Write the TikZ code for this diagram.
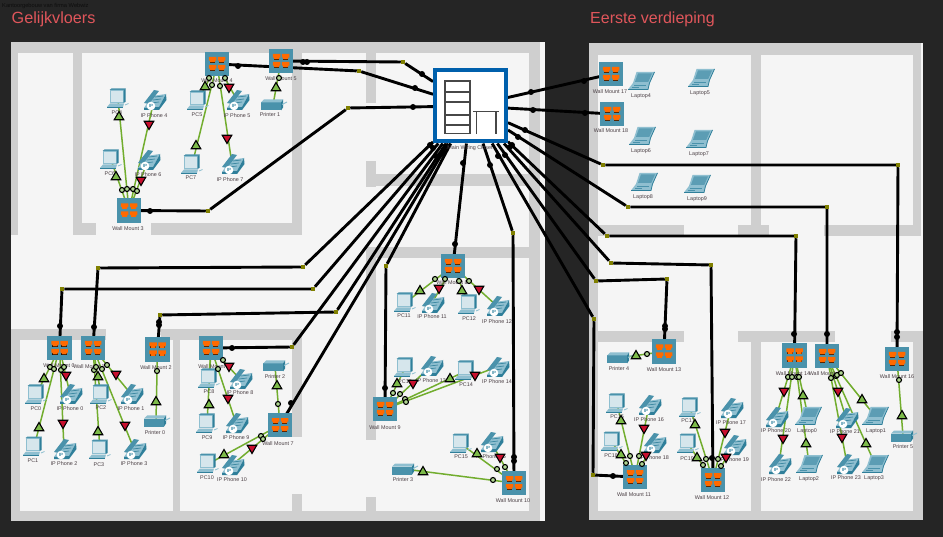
\documentclass[tikz,border=0pt]{standalone}
\usepackage{fontspec}
\setmainfont{Liberation Sans}
\usetikzlibrary{shapes.geometric}
\pgfdeclarelayer{floor}
\pgfdeclarelayer{edges}
\pgfsetlayers{floor,edges,main}
\definecolor{bgdark}{HTML}{252525}
\definecolor{floorlight}{HTML}{F5F5F5}
\definecolor{wallgray}{HTML}{CFCFCF}
\definecolor{titlered}{HTML}{E0565B}
\definecolor{teal}{HTML}{4A92AB}
\definecolor{tealdark}{HTML}{2F7F9A}
\definecolor{teallight}{HTML}{8FBFD0}
\definecolor{screenlight}{HTML}{D6E6EC}
\definecolor{portorange}{HTML}{FF6A00}
\definecolor{closetblue}{HTML}{0060AC}
\definecolor{linkgreen}{HTML}{72AD2E}
\definecolor{trigreen}{HTML}{7DBB4A}
\definecolor{trired}{HTML}{C8102E}
\definecolor{olivebend}{HTML}{808000}
\definecolor{labelcol}{HTML}{4A3F44}
\tikzset{
 anch/.style={inner sep=0pt,outer sep=0pt,minimum size=0pt},
 devlab/.style={inner sep=0pt,text=labelcol,font=\fontsize{5.4}{6}\selectfont},
 bb/.style={draw=black,line width=2.9pt},
 lnk/.style={draw=linkgreen,line width=1.5pt},
 bendbox/.style={draw=none,fill=olivebend,minimum size=4.5pt,inner sep=0pt,outer sep=0pt},
 tup/.style={regular polygon,regular polygon sides=3,minimum size=11pt,inner sep=0pt,fill=trigreen,draw=black,line width=1.1pt},
 tdown/.style={regular polygon,regular polygon sides=3,shape border rotate=180,minimum size=11pt,inner sep=0pt,fill=trired,draw=black,line width=1.1pt},
 ldot/.style={circle,minimum size=5pt,inner sep=0pt,fill=trigreen!60!white,draw=black,line width=1.1pt},
 blob/.style={circle,minimum size=6pt,inner sep=0pt,fill=black},
 pc/.pic={
  \fill[teallight] (-8.5,-9) rectangle (5.5,4);
  \fill[tealdark] (5.5,-9) -- (7.5,-10.5) -- (7.5,3) -- (5.5,4) -- cycle;
  \fill[teal] (-8.5,-9) -- (-6.5,-10.5) -- (7.5,-10.5) -- (5.5,-9) -- cycle;
  \fill[screenlight] (-7.5,-8) rectangle (4.5,3);
  \fill[teallight] (-11,8) -- (-8,4.5) -- (6,4.5) -- (5,8) -- cycle;
  \fill[tealdark] (-11,8) rectangle (5,9);
  \draw[teallight,line width=.8pt] (7,6) -- (10.5,4.5);
 },
 phone/.pic={
  \fill[teallight] (-10,8) -- (-2,-4) -- (12,-6) -- (5,7) -- cycle;
  \fill[tealdark] (-10,8) -- (5,7) -- (5,10) -- (-10,10) -- cycle;
  \fill[tealdark] (5,7) -- (12,-6) -- (12.5,0) -- (5,10) -- cycle;
  \fill[teal] (-10,3) -- (0,-10) -- (5,-9) -- (-5,4) -- cycle;
  \draw[tealdark,line width=.6pt] (1,-3) -- (9,-4) (-1,0) -- (7,-1) (-3,3) -- (5,2);
  \fill[white] (-3,6) circle (4.3pt);
  \node[inner sep=0pt,text=teal,font=\bfseries\fontsize{4.5}{5}\selectfont] (ip) at (-3,6) {IP};
 },
 printer/.pic={
  \fill[teal] (-12,-2.5) rectangle (8,5.5);
  \fill[teallight] (-12,-2.5) -- (-9,-5.5) -- (10,-5.5) -- (8,-2.5) -- cycle;
  \fill[tealdark] (8,-2.5) -- (10,-5.5) -- (10,2.5) -- (8,5.5) -- cycle;
  \draw[teallight,line width=1pt] (9,-.5) -- (14,-3);
 },
 laptop/.pic={
  \fill[teallight] (-4.5,-9) -- (13.5,-9) -- (8.5,2) -- (-8,2) -- cycle;
  \fill[teal!90!white] (-3,-7.5) -- (11,-7.5) -- (7.3,.8) -- (-6,.8) -- cycle;
  \fill[teallight] (-8,2) -- (8.5,2) -- (7,8.5) -- (-13,8.5) -- cycle;
  \draw[tealdark,line width=.8pt] (13.5,-9) -- (8.5,2) -- (7,8.5) -- (-13,8.5);
  \draw[teal,line width=.6pt] (-7,4) -- (5,4) (-9,6) -- (-2,6);
 },
 mount/.pic={
  \fill[teal] (-12.2,-12.2) rectangle (12.2,12.2);
  \foreach \ax/\ay in {-8.2/-7,0.8/-7,-8.2/1,0.8/1}{
   \fill[black] (\ax+.8,\ay+4) rectangle (\ax+6.6,\ay+6);
   \fill[portorange] (\ax,\ay) -- (\ax+7.6,\ay) -- (\ax+7.6,\ay+3.6) -- (\ax+6.2,\ay+3.6) -- (\ax+6.2,\ay+5.3) -- (\ax+1.4,\ay+5.3) -- (\ax+1.4,\ay+3.6) -- (\ax,\ay+3.6) -- cycle;
  }
 }
}
\newcommand{\putdev}[7]{\node[anch] (#2) at (#3,#4) {}; \pic (#2ic) at (#2) {#1}; \node[devlab] (#2lab) at (#5,#6) {#7};}
\begin{document}
\begin{tikzpicture}[x=1pt,y=-1pt]
\useasboundingbox (0,0) rectangle (943,537);
\begin{pgfonlayer}{floor}
\fill[bgdark] (0,0) rectangle (943,537);
\fill[floorlight] (11,42) rectangle (545,521);
\fill[floorlight] (589,43) rectangle (923,520);
\foreach \a/\b/\c/\d in {
 11/42/540/53, 529/42/540/521, 11/511/540/521,
 11/42/18/235, 73/42/82/235, 11/223/18/235, 73/223/96/235, 151/223/302/235, 292/42/302/235,
 366/42/376/103, 366/161/376/187, 366/174/529/186,
 366/247/529/258, 366/247/376/440, 366/497/376/521,
 11/329/20/521, 11/329/106/340, 161/329/302/340, 173/329/180/521, 292/329/302/437, 292/494/302/521,
 589/43/921/55, 589/43/598/520, 751/43/761/236, 912.7/43/921/236,
 589/225/684/236, 738/225/769/236, 824/225/921/236,
 589/331/684/342, 738/331/835/342, 891/331/923/342,
 751/331/761/520, 913/331/923/520, 589/511/923/520}
 {\fill[wallgray] (\a,\b) rectangle (\c,\d);}
\end{pgfonlayer}
\node[anchor=base west,inner sep=0pt,text=black!95,font=\fontsize{5.7}{6}\selectfont] (doctitle) at (2,8) {Kantoorgebouw van firma Webwiz};
\node[anchor=base west,inner sep=0pt,text=titlered,font=\fontsize{16.2}{18}\selectfont] (gelijk) at (11.5,23.5) {Gelijkvloers};
\node[anchor=base west,inner sep=0pt,text=titlered,font=\fontsize{16}{18}\selectfont] (eerste) at (590,23.5) {Eerste verdieping};
% closet
\node[draw=closetblue,line width=4pt,fill=white,minimum size=71pt,inner sep=0pt,outer sep=2pt] (closet) at (470.5,106) {};
\begin{scope}[draw=black!72,line width=1.9pt]
\draw (445,81) rectangle (470,133.5);
\draw (445,92) -- (470,92) (445,102) -- (470,102) (445,115) -- (470,115) (445,125) -- (470,125);
\draw (473,111.5) -- (499,111.5) (476.5,111.5) -- (476.5,134) (496,111.5) -- (496,134);
\end{scope}
\node[devlab] (closetlab) at (470,148) {Main Wiring Closet};
% mounts
\putdev{mount}{wa}{59.5}{348}{59}{366}{Wall Mount 0}
\putdev{mount}{wb}{93}{348}{89}{367}{Wall Mount 1}
\putdev{mount}{wc}{157.5}{349.5}{156}{368}{Wall Mount 2}
\putdev{mount}{wd}{129}{210.5}{128}{229}{Wall Mount 3}
\putdev{mount}{we}{217}{64}{217}{81}{Wall Mount 4}
\putdev{mount}{wf}{281}{61}{281}{79}{Wall Mount 5}
\putdev{mount}{wg}{211}{348}{214}{367}{Wall Mount 6}
\putdev{mount}{wh}{280}{425}{278}{444}{Wall Mount 7}
\putdev{mount}{wi}{453}{266}{452}{283}{Wall Mount 8}
\putdev{mount}{wj}{385}{409}{385}{428}{Wall Mount 9}
\putdev{mount}{wk}{514}{483}{513}{501}{Wall Mount 10}
\putdev{mount}{wl}{635}{477}{634}{495}{Wall Mount 11}
\putdev{mount}{wm}{713}{480}{712}{498}{Wall Mount 12}
\putdev{mount}{wn}{664}{351.5}{664}{370}{Wall Mount 13}
\putdev{mount}{wo}{794.5}{355.5}{793}{374}{Wall Mount 14}
\putdev{mount}{wp}{827}{356}{826}{374}{Wall Mount 15}
\putdev{mount}{wq}{897}{359}{897}{377}{Wall Mount 16}
\putdev{mount}{wr}{611}{74}{610}{92}{Wall Mount 17}
\putdev{mount}{ws}{612}{114}{611}{131}{Wall Mount 18}
% PCs
\putdev{pc}{pca}{36}{395}{36}{409}{PC0}
\putdev{pc}{pcb}{34}{447}{33}{461}{PC1}
\putdev{pc}{pcc}{101}{395}{101}{408}{PC2}
\putdev{pc}{pcd}{100}{450}{99}{465}{PC3}
\putdev{pc}{pce}{118}{99}{117}{113}{PC4}
\putdev{pc}{pcf}{198}{101}{197}{115}{PC5}
\putdev{pc}{pcg}{111}{160}{110}{174}{PC6}
\putdev{pc}{pch}{192}{165}{191}{178}{PC7}
\putdev{pc}{pci}{209}{379}{209}{392}{PC8}
\putdev{pc}{pcj}{207}{424}{207}{438}{PC9}
\putdev{pc}{pck}{208}{464}{207}{478}{PC10}
\putdev{pc}{pcl}{405}{303}{404}{316}{PC11}
\putdev{pc}{pcm}{469}{305}{469}{319}{PC12}
\putdev{pc}{pcn}{405}{368}{405}{382}{PC13}
\putdev{pc}{pco}{466}{371}{466}{385}{PC14}
\putdev{pc}{pcp}{461}{444}{461}{457}{PC15}
\putdev{pc}{pcq}{617}{404}{617}{417}{PC16}
\putdev{pc}{pcr}{690}{408}{688}{421}{PC17}
\putdev{pc}{pcs}{612}{442}{611}{456}{PC18}
\putdev{pc}{pct}{688}{444}{687}{459}{PC19}
% phones
\putdev{phone}{ipa}{70}{394}{70}{409}{IP Phone 0}
\putdev{phone}{ipb}{131}{394}{131}{409}{IP Phone 1}
\putdev{phone}{ipc}{64}{449}{64}{464}{IP Phone 2}
\putdev{phone}{ipd}{134}{449}{134}{464}{IP Phone 3}
\putdev{phone}{ipe}{154}{100}{154}{116}{IP Phone 4}
\putdev{phone}{ipf}{237}{100}{237}{116}{IP Phone 5}
\putdev{phone}{ipg}{148}{160}{148}{175}{IP Phone 6}
\putdev{phone}{iph}{232}{164}{230}{180}{IP Phone 7}
\putdev{phone}{ipi}{240}{379}{240}{393}{IP Phone 8}
\putdev{phone}{ipj}{236}{423}{236}{438}{IP Phone 9}
\putdev{phone}{ipk}{232}{465}{232}{480}{IP Phone 10}
\putdev{phone}{ipl}{432}{303}{432}{317}{IP Phone 11}
\putdev{phone}{ipm}{497}{306}{497}{322}{IP Phone 12}
\putdev{phone}{ipn}{431}{366}{431}{381}{IP Phone 13}
\putdev{phone}{ipo}{497}{367}{497}{382}{IP Phone 14}
\putdev{phone}{ipp}{491}{442}{491}{457}{IP Phone 15}
\putdev{phone}{ipq}{649}{405}{649}{420}{IP Phone 16}
\putdev{phone}{ipr}{731}{408}{731}{423}{IP Phone 17}
\putdev{phone}{ips}{654}{443}{654}{458}{IP Phone 18}
\putdev{phone}{ipt}{734}{445}{734}{460}{IP Phone 19}
\putdev{phone}{ipu}{776}{417}{776}{431}{IP Phone 20}
\putdev{phone}{ipv}{846}{418}{845}{432}{IP Phone 21}
\putdev{phone}{ipw}{779}{464}{776}{480}{IP Phone 22}
\putdev{phone}{ipx}{847}{464}{846}{478}{IP Phone 23}
% printers
\putdev{printer}{pra}{156}{421}{155}{433}{Printer 0}
\putdev{printer}{prb}{273}{105}{270}{115}{Printer 1}
\putdev{printer}{prc}{275}{366}{275}{377}{Printer 2}
\putdev{printer}{prd}{404}{469}{403}{480}{Printer 3}
\putdev{printer}{pre}{619}{358}{619}{369}{Printer 4}
\putdev{printer}{prf}{903}{436}{903}{447}{Printer 5}
% laptops
\putdev{laptop}{lpa}{808}{416}{807}{431}{Laptop0}
\putdev{laptop}{lpb}{875}{416}{876}{431}{Laptop1}
\putdev{laptop}{lpc}{809}{464}{809}{479}{Laptop2}
\putdev{laptop}{lpd}{875}{464}{874}{478}{Laptop3}
\putdev{laptop}{lpe}{641}{81}{641}{96}{Laptop4}
\putdev{laptop}{lpf}{701}{78}{700}{93}{Laptop5}
\putdev{laptop}{lpg}{642}{136}{641}{151}{Laptop6}
\putdev{laptop}{lph}{699}{139}{699}{154}{Laptop7}
\putdev{laptop}{lpi}{644}{182}{643}{197}{Laptop8}
\putdev{laptop}{lpj}{697}{184}{697}{199}{Laptop9}
% bend points
\foreach \n/\x/\y in {ba/403/62,bb/359/71,bc/348/108,bd/208/211,be/303/267,bf/98/268,bg/313/289,bh/62/289,bi/336/312,bj/160/315,bk/292/347,bl/386/266,bm/513/233,bn/603/165,bo/898/165,bp/628/207,bq/827/207,br/607/236,bs/796/236,bt/611/263,bu/711/265,bv/596/281,bw/667/279,bx/594/319,by/593/475}
 {\node[bendbox] (\n) at (\x,\y) {};}
\begin{pgfonlayer}{edges}
\draw[bb] (closet) -- (ba) -- (wf);
\draw[bb] (closet) -- (bb) -- (we);
\draw[bb] (closet) -- (bc) -- (bd) -- (wd);
\draw[bb] (closet) -- (be) -- (bf) -- (wb);
\draw[bb] (closet) -- (bg) -- (bh) -- (wa);
\draw[bb] (closet) -- (bi) -- (bj) -- (wc);
\draw[bb] (closet) -- (bk) -- (wg);
\draw[bb] (closet) -- (wh);
\draw[bb] (closet) -- (bl) -- (wj);
\draw[bb] (closet) -- (wi);
\draw[bb] (closet) -- (bm) -- (wk);
\draw[bb] (closet) -- (wr);
\draw[bb] (closet) -- (ws);
\draw[bb] (closet) -- (bn) -- (bo) -- (wq);
\draw[bb] (closet) -- (bp) -- (bq) -- (wp);
\draw[bb] (closet) -- (br) -- (bs) -- (wo);
\draw[bb] (closet) -- (bt) -- (bu) -- (wm);
\draw[bb] (closet) -- (bv) -- (bw) -- (wn);
\draw[bb] (closet) -- (bx) -- (by) -- (wl);
\foreach \a/\b in {pca/wa,pcb/wa,ipa/wa,ipc/wa, pcc/wb,pcd/wb,ipb/wb,ipd/wb, pra/wc,
 pce/wd,pcg/wd,ipe/wd,ipg/wd, pcf/we,pch/we,ipf/we,iph/we, prb/wf,
 pci/wg,pcj/wg,ipi/wg,ipj/wg, prc/wh,pck/wh,ipk/wh,
 pcl/wi,ipl/wi,pcm/wi,ipm/wi, pcn/wj,ipn/wj,pco/wj,ipo/wj, pcp/wk,ipp/wk,prd/wk,
 pcq/wl,pcs/wl,ipq/wl,ips/wl, pcr/wm,pct/wm,ipr/wm,ipt/wm, pre/wn,
 ipu/wo,ipw/wo,lpa/wo,lpc/wo, ipv/wp,ipx/wp,lpb/wp,lpd/wp, prf/wq}
 {\draw[lnk] (\a) -- (\b);}
\end{pgfonlayer}
% link state markers
\foreach \x/\y [count=\i] in {584/81,531/92,533/110,585/113,525/130,518/137,510/147,512/145,498/156,505/155,490/165,463/163,455/244,422/74,415/88,413/107,303/62,307/62,238/66,150/211,430/145,433/148,436/156,440/155,443/152,94/327,60/326,159/325,159/322,232/348,291/403,385/388,514/457,514/461,665/326,665/329,613/476,712/458,794/334,827/334,897/332,897/337}
 {\node[blob] (lamp\i) at (\x,\y) {};}
\foreach \x/\y [count=\i] in {122/190,127/189,133/189,137/191,209/78,212/85,220/86,225/78,279/78,50/367,54/369,61/370,64/367,94/370,96/367,102/369,107/365,157/371,223/360,218/369,278/404,261/436,263/439,435/279,445/279,459/281,469/281,393/393,400/394,405/399,406/402,497/469,505/467,493/480,647/354,626/463,630/456,639/456,642/464,703/465,706/459,718/459,721/466,788/377,792/377,797/377,799/377,831/378,836/376,837/375,841/373,899/380}
 {\node[ldot] (dot\i) at (\x,\y) {};}
\foreach \x/\y [count=\i] in {119/117,116/177,205/87,196/146,276/88,44/379,39/428,98/377,98/432,156/402,209/405,277/386,224/455,420/291,462/291,397/384,450/379,477/454,423/472,636/356,621/421,621/455,695/425,697/458,803/396,806/444,862/400,866/444,902/416}
 {\node[tup] (up\i) at (\x,\y) {};}
\foreach \x/\y [count=\i] in {149/124,141/180,229/87,227/138,66/375,63/423,116/374,125/425,229/366,228/398,252/448,439/288,479/289,413/383,475/375,500/457,644/428,646/455,725/432,726/457,784/391,783/438,838/391,842/437}
 {\node[tdown] (dn\i) at (\x,\y) {};}
\end{tikzpicture}
\end{document}
